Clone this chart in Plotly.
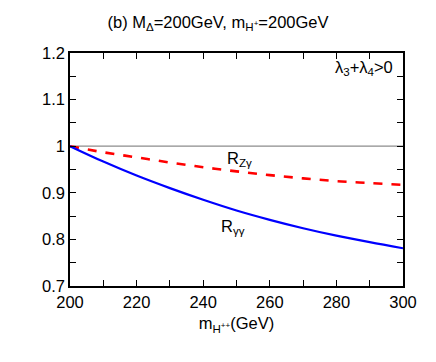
import plotly.graph_objects as go

# m_H++ (GeV)
mass = [200, 210, 220, 230, 240, 250, 260, 270, 280, 290, 300]
# ratios
r_gg = [1.0, 0.967, 0.937, 0.910, 0.885, 0.862, 0.842, 0.824, 0.808, 0.794, 0.781]
r_zg = [1.0, 0.987, 0.976, 0.965, 0.955, 0.946, 0.938, 0.931, 0.925, 0.921, 0.917]

font = dict(family="Liberation Sans, Arial, sans-serif", size=16.5, color="black")

fig = go.Figure()
# reference line at 1
fig.add_trace(go.Scatter(x=[200, 300], y=[1, 1], mode="lines",
                         line=dict(color="#8c8c8c", width=1.2), showlegend=False))
fig.add_trace(go.Scatter(x=mass, y=r_zg, mode="lines", line_shape="spline",
                         line=dict(color="#ff0000", width=2.6, dash="dash"), showlegend=False))
fig.add_trace(go.Scatter(x=mass, y=r_gg, mode="lines", line_shape="spline",
                         line=dict(color="#0000ff", width=2.2), showlegend=False))

fig.add_annotation(x=251, y=0.972, text="R<sub>Zγ</sub>", showarrow=False, font=font)
fig.add_annotation(x=249, y=0.826, text="R<sub>γγ</sub>", showarrow=False, font=font)
fig.add_annotation(x=300, y=1.168, text="λ<sub>3</sub>+λ<sub>4</sub>>0", showarrow=False,
                   xanchor="right", xshift=-8, font=font)

axis = dict(showgrid=False, zeroline=False, showline=True, linecolor="black", linewidth=1.5,
            mirror="allticks", ticks="inside", ticklen=6, tickcolor="black", tickwidth=1,
            tickfont=font)
fig.update_xaxes(range=[200, 300], dtick=20, tick0=200,
                 minor=dict(dtick=10, ticks="inside", ticklen=6, tickcolor="black"),
                 title=dict(text="m<sub>H<sup>++</sup></sub>(GeV)", font=font, standoff=8), **axis)
fig.update_yaxes(range=[0.7, 1.2], dtick=0.1, tick0=0.7,
                 minor=dict(dtick=0.05, ticks="inside", ticklen=6, tickcolor="black"),
                 **axis)

# page body adds an 8px offset, so the figure is a bit smaller than the window
fig.update_layout(
    width=420, height=346,
    margin=dict(l=62, r=25, t=45, b=68),
    paper_bgcolor="white", plot_bgcolor="white",
    font=font,
    title=dict(text="(b) M<sub>Δ</sub>=200GeV, m<sub>H<sup>+</sup></sub>=200GeV",
               x=0.5, xanchor="center", y=0.96, yanchor="middle", font=font),
)

fig.write_html("out.html")
